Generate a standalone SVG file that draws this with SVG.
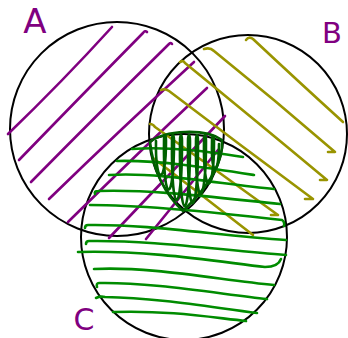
<svg xmlns="http://www.w3.org/2000/svg" width="348" height="338" viewBox="0 0 348 338">
<style>
.c{fill:none;stroke:#000;stroke-width:2}
.p{fill:none;stroke:#800080;stroke-width:2.6;stroke-linecap:round;stroke-linejoin:round}
.o{fill:none;stroke:#999400;stroke-width:2.6;stroke-linecap:round;stroke-linejoin:round}
.g{fill:none;stroke:#008c00;stroke-width:2.6;stroke-linecap:round;stroke-linejoin:round}
.d{fill:none;stroke:#006000;stroke-width:2.6;stroke-linecap:round;stroke-linejoin:round}
.lbl{font-family:"DejaVu Sans","Liberation Sans",sans-serif;fill:#800080;text-anchor:middle}
</style>
<rect width="348" height="338" fill="#fff"/>
<g id="A">
<circle class="c" cx="117" cy="129" r="107"/>
<text class="lbl" x="35" y="33" font-size="34">A</text>
</g>
<g id="B">
<circle class="c" cx="248" cy="134" r="99"/>
<text class="lbl" x="332" y="43" font-size="29">B</text>
</g>
<g id="C">
<circle class="c" cx="184" cy="237" r="103"/>
<text class="lbl" x="84" y="330" font-size="30">C</text>
</g>
<g id="connectors">
<g id="hatchA">
<path class="p" d="M8,134 Q 62,82 112,27"/>
<path class="p" d="M19,160 Q 82,95 143,33 q 2,-3 4,-1"/>
<path class="p" d="M31,182 Q 101,111 169,44 q 2,-2 3,0"/>
<path class="p" d="M49,199 Q 122,128 194,62"/>
<path class="p" d="M68,222 Q 139,152 207,88"/>
<path class="p" d="M109,238 Q 169,175 225,116"/>
<path class="p" d="M146,239 Q 183,193 218,150"/>
</g>
<g id="hatchB">
<path class="o" d="M246,40 q 3,-4 7,-1 Q 300,83 343,122"/>
<path class="o" d="M204,49 q 6,-2 10,2 Q 275,100 335,152 l -7,0"/>
<path class="o" d="M180,62 q 3,-2 5,1 Q 255,120 327,180 l -7,0"/>
<path class="o" d="M161,90 q 4,-2 8,1 Q 240,145 313,199 l -8,0"/>
<path class="o" d="M150,124 q 3,0 5,3 Q 216,170 278,215 l -7,0"/>
<path class="o" d="M153,158 Q 203,196 253,235"/>
</g>
<g id="hatchC">
<path class="g" d="M132,149 C 170,146 210,152 243,157"/>
<path class="g" d="M117,161 C 160,160 210,168 254,175"/>
<path class="g" d="M109,175 C 160,172 220,184 274,189"/>
<path class="g" d="M95,194 q -1,-3 3,-3 C 150,189 220,198 280,204"/>
<path class="g" d="M90,205 C 150,205 230,214 282,220 q 3,2 2,6"/>
<path class="g" d="M85,228 q 0,-3 3,-3 C 150,224 220,236 286,240"/>
<path class="g" d="M86,244 q 0,-3 3,-3 C 150,240 220,250 286,255"/>
<path class="g" d="M78,252 C 150,250 220,262 265,267 Q 278,267 281,259"/>
<path class="g" d="M94,269 C 150,266 220,280 274,285"/>
<path class="g" d="M97,287 q -1,-4 2,-4 C 150,282 220,294 267,299"/>
<path class="g" d="M96,298 q 4,-2 9,-1 C 160,298 215,308 257,313"/>
<path class="g" d="M113,312 C 170,310 215,318 246,321"/>
</g>
<g id="hatchABC">
<path class="d" d="M150,142 C 165,130 205,128 222,140 C 224,165 205,190 183,211 C 165,195 153,170 150,142"/>
<path class="d" d="M156,141 C155,186 166,186 166,141 C166,133 164,133 164,141 C163,206 174,206 174,141 C174,133 172,133 172,141 C171,220 182,220 182,141 C182,133 180,133 180,141 C179,228 190,228 190,141 C190,133 188,133 188,141 C187,224 198,224 198,141 C198,133 196,133 196,141 C195,212 206,212 206,141 C206,133 204,133 204,141 C203,198 214,198 214,141 C214,134 212,134 212,142 C211,177 219,177 219,144"/>
</g>
</g>
</svg>
